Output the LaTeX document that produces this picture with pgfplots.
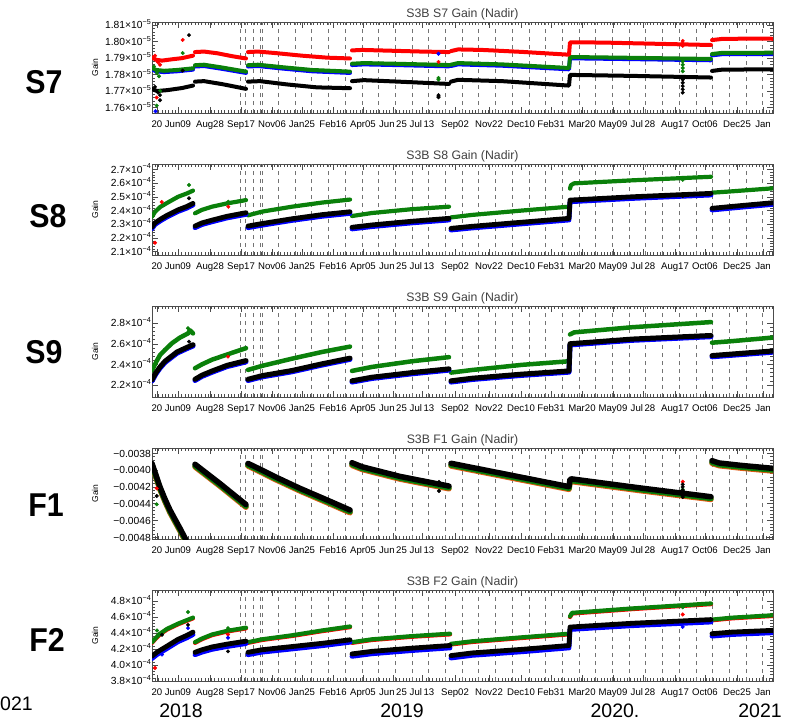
\documentclass[border=0pt]{standalone}
\usepackage{pgfplots}
\pgfplotsset{compat=1.18}
\usepackage{fontspec}
\setmainfont{Liberation Sans}

\definecolor{sred}{RGB}{255,0,0}
\definecolor{sgreen}{RGB}{10,128,10}
\definecolor{sblue}{RGB}{0,0,255}
\definecolor{sframe}{gray}{0.3}
\definecolor{sorange}{RGB}{225,90,20}

% tick label with a power of ten
\newcommand\sci[2]{#1×10\raisebox{0.75ex}{\fontsize{7.2}{7}\selectfont#2}}

\pgfplotsset{
  gainpanel/.style={
    scale only axis, width=621pt, height=91pt,
    at={(0pt,0pt)}, anchor=south west,
    xmin=0, xmax=621,
    xtick={5,26,58,89,120,150,181,211,241,270,303,337,369,399,430,461,491,523,553,585,611},
    xticklabels={20,Jun09,Aug28,Sep17,Nov06,Jan25,Feb16,Apr05,Jun\,25,Jul\,13,Sep02,Nov22,Dec10,Feb31,Mar20,May09,Jul\,28,Aug17,Oct06,Dec25,Jan},
    minor xtick={0,3.3,...,621},
    extra x ticks={88,93,101,108,110,126.3,143,...,612},
    extra x tick labels={},
    extra x tick style={grid=major, major tick length=0pt},
    major grid style={black!55, line width=0.45pt, dash pattern=on 4pt off 4pt},
    minor y tick num=4,
    scaled y ticks=false,
    major tick length=6pt, minor tick length=3pt,
    every tick/.style={sframe, line width=0.45pt},
    axis line style={sframe, line width=0.6pt},
    xticklabel style={font=\fontsize{9.6}{10}\selectfont, yshift=-4.3pt},
    yticklabel style={font=\fontsize{10.3}{11}\selectfont, anchor=base east, yshift=-3.7pt, inner sep=1pt},
    ylabel={Gain},
    every axis y label/.style={at={(rel axis cs:0,0.5)}, xshift=-57pt, rotate=90, anchor=center, font=\fontsize{8.5}{9}\selectfont},
    every axis title/.style={at={(rel axis cs:0.5,1)}, yshift=8pt, anchor=center, font=\fontsize{12.3}{13}\selectfont, text=black!75},
    unbounded coords=jump,
  },
  band/.style={no marks, line width=#1, line join=round, line cap=round},
  band/.default=4pt,
  spot/.style={only marks, mark=*, mark size=1.8pt},
}

\begin{document}
\begin{tikzpicture}
\path[use as bounding box] (0pt,0pt) rectangle (794pt,-721pt);

% ---------------- S7 ----------------
\begin{scope}[shift={(152pt,-113pt)}]
\begin{axis}[gainpanel,
  title={S3B S7 Gain (Nadir)},
  ymin=1.7566, ymax=1.812,
  ytick={1.76,1.77,1.78,1.79,1.80,1.81},
  yticklabels={\sci{1.76}{−5},\sci{1.77}{−5},\sci{1.78}{−5},\sci{1.79}{−5},\sci{1.80}{−5},\sci{1.81}{−5}}]
\addplot[band, sblue] table {
x y
0 1.7832
4 1.7820
12 1.7815
25 1.7820
41 1.7830
nan nan
43 1.7849
52 1.7852
70 1.7835
94 1.7810
nan nan
96 1.7849
106 1.7852
130 1.7837
160 1.7820
198 1.7810
nan nan
200 1.7858
212 1.7862
250 1.7857
297 1.7850
nan nan
299 1.7852
306 1.7862
350 1.7854
417 1.7832
418 1.7899
480 1.7894
559 1.7887
nan nan
560 1.7917
570 1.7924
621 1.7925
};
\addplot[band, sgreen] table {
x y
0 1.7840
4 1.7828
12 1.7823
25 1.7828
41 1.7838
nan nan
43 1.7857
52 1.7860
70 1.7843
94 1.7818
nan nan
96 1.7857
106 1.7860
130 1.7845
160 1.7828
198 1.7818
nan nan
200 1.7866
212 1.7870
250 1.7865
297 1.7858
nan nan
299 1.7860
306 1.7870
350 1.7862
417 1.7840
418 1.7907
480 1.7902
559 1.7895
nan nan
560 1.7925
570 1.7932
621 1.7933
};
\addplot[band, sred] table {
x y
0 1.7905
4 1.7890
10 1.7885
20 1.7893
30 1.7900
41 1.7915
nan nan
43 1.7937
52 1.7940
65 1.7930
80 1.7912
94 1.7898
nan nan
96 1.7937
106 1.7940
125 1.7930
150 1.7915
175 1.7903
198 1.7898
nan nan
200 1.7947
210 1.7950
240 1.7945
270 1.7940
297 1.7937
nan nan
299 1.7943
306 1.7953
330 1.7950
370 1.7938
417 1.7921
418 1.7996
450 1.7995
500 1.7988
559 1.7980
nan nan
560 1.8010
570 1.8017
600 1.8019
621 1.8018
};
\addplot[band, black] table {
x y
0 1.7712
5 1.7700
15 1.7705
30 1.7718
41 1.7733
nan nan
43 1.7757
52 1.7760
70 1.7742
94 1.7713
nan nan
96 1.7757
108 1.7760
135 1.7740
165 1.7722
198 1.7717
nan nan
200 1.7760
212 1.7766
250 1.7756
297 1.7743
nan nan
299 1.7757
306 1.7768
350 1.7760
417 1.7733
418 1.7798
480 1.7792
559 1.7782
nan nan
560 1.7822
570 1.7830
621 1.7832
};
\addplot[spot, sred] coordinates {(3,1.7915) (6,1.7875) (8,1.7860) (4.7,1.7660) (30.7,1.8011) (286.5,1.7877) (530.7,1.8005) (530.7,1.7990) (530.7,1.7975)};
\addplot[spot, sgreen] coordinates {(2,1.7850) (5,1.7810) (7,1.7790) (4.7,1.7611) (8,1.7700) (30.7,1.7931) (286.5,1.7779) (286.5,1.7770) (530.7,1.7880) (530.7,1.7860) (530.7,1.7840) (530.7,1.7820)};
\addplot[spot, sblue] coordinates {(3.5,1.7577) (286.5,1.7927)};
\addplot[spot, black] coordinates {(3,1.7725) (6,1.7690) (8,1.7675) (8,1.7644) (30.7,1.7824) (37,1.8040) (286.5,1.7669) (286.5,1.7662) (286.5,1.7675) (530.7,1.7770) (530.7,1.7750) (530.7,1.7730) (530.7,1.7710) (530.7,1.7690)};
\end{axis}
\end{scope}

% ---------------- S8 ----------------
\begin{scope}[shift={(152pt,-255pt)}]
\begin{axis}[gainpanel,
  title={S3B S8 Gain (Nadir)},
  ymin=2.076, ymax=2.739,
  ytick={2.1,2.2,2.3,2.4,2.5,2.6,2.7},
  yticklabels={\sci{2.1}{−4},\sci{2.2}{−4},\sci{2.3}{−4},\sci{2.4}{−4},\sci{2.5}{−4},\sci{2.6}{−4},\sci{2.7}{−4}}]
\addplot[band=4.2pt, sgreen] table {
x y
0 2.355
3 2.390
8 2.425
15 2.455
26 2.500
35 2.525
41 2.545
nan nan
43 2.380
50 2.405
60 2.428
75 2.452
94 2.476
nan nan
96 2.365
110 2.392
140 2.428
170 2.458
198 2.480
nan nan
200 2.360
220 2.382
260 2.410
297 2.428
nan nan
299 2.350
320 2.368
370 2.400
417 2.428
nan nan
418 2.560
419 2.585
422 2.598
480 2.620
559 2.646
nan nan
560 2.530
580 2.540
621 2.562
};
\addplot[band=4.8pt, sblue] table {
x y
0 2.268
3 2.298
8 2.323
15 2.353
26 2.393
35 2.418
41 2.440
nan nan
43 2.275
50 2.298
60 2.318
75 2.346
94 2.372
nan nan
96 2.275
110 2.293
140 2.328
170 2.358
198 2.379
nan nan
200 2.266
220 2.283
260 2.310
297 2.331
nan nan
299 2.258
320 2.273
370 2.303
417 2.331
418 2.464
480 2.488
559 2.513
nan nan
560 2.404
580 2.418
621 2.445
};
\addplot[band=4.8pt, black] table {
x y
0 2.280
3 2.310
8 2.335
15 2.365
26 2.405
35 2.430
41 2.452
nan nan
43 2.287
50 2.310
60 2.330
75 2.358
94 2.384
nan nan
96 2.287
110 2.305
140 2.340
170 2.370
198 2.391
nan nan
200 2.278
220 2.295
260 2.322
297 2.343
nan nan
299 2.270
320 2.285
370 2.315
417 2.343
418 2.476
480 2.500
559 2.525
nan nan
560 2.416
580 2.430
621 2.457
};
\addplot[spot, sred] coordinates {(3,2.165) (9.7,2.462) (76.3,2.428)};
\addplot[spot, sgreen] coordinates {(37,2.586) (76.3,2.464) (530.7,2.624)};
\addplot[spot, black] coordinates {(37,2.489) (530.7,2.505)};
\end{axis}
\end{scope}

% ---------------- S9 ----------------
\begin{scope}[shift={(152pt,-397pt)}]
\begin{axis}[gainpanel,
  title={S3B S9 Gain (Nadir)},
  ymin=2.083, ymax=2.966,
  ytick={2.2,2.4,2.6,2.8},
  yticklabels={\sci{2.2}{−4},\sci{2.4}{−4},\sci{2.6}{−4},\sci{2.8}{−4}}]
\addplot[band=4.5pt, sgreen] table {
x y
0 2.340
4 2.420
8 2.490
13 2.540
20 2.605
28 2.660
36 2.700
38 2.730
41 2.700
nan nan
43 2.362
50 2.400
60 2.445
75 2.495
94 2.557
nan nan
96 2.346
110 2.385
140 2.455
170 2.520
198 2.572
nan nan
200 2.336
220 2.375
260 2.430
297 2.470
nan nan
299 2.320
320 2.345
370 2.395
417 2.430
nan nan
418 2.690
422 2.710
480 2.760
559 2.810
nan nan
560 2.610
580 2.625
621 2.660
};
\addplot[band=5pt, sblue] table {
x y
0 2.238
4 2.308
8 2.363
13 2.418
25 2.508
35 2.553
41 2.578
nan nan
43 2.243
50 2.283
60 2.323
75 2.378
94 2.424
nan nan
96 2.243
110 2.278
140 2.328
170 2.393
198 2.448
nan nan
200 2.228
220 2.263
260 2.308
297 2.344
nan nan
299 2.228
320 2.253
370 2.293
417 2.324
418 2.588
480 2.633
559 2.668
nan nan
560 2.473
580 2.488
621 2.518
};
\addplot[band=5pt, black] table {
x y
0 2.250
4 2.320
8 2.375
13 2.430
25 2.520
35 2.565
41 2.590
nan nan
43 2.255
50 2.295
60 2.335
75 2.390
94 2.436
nan nan
96 2.255
110 2.290
140 2.340
170 2.405
198 2.460
nan nan
200 2.240
220 2.275
260 2.320
297 2.356
nan nan
299 2.240
320 2.265
370 2.305
417 2.336
418 2.600
480 2.645
559 2.680
nan nan
560 2.485
580 2.500
621 2.530
};
\addplot[spot, sred] coordinates {(76,2.475)};
\addplot[spot, sgreen] coordinates {(36,2.750)};
\addplot[spot, black] coordinates {(37,2.620) (530.7,2.670)};
\end{axis}
\end{scope}

% ---------------- F1 ----------------
\begin{scope}[shift={(152pt,-539pt)}]
\begin{axis}[gainpanel,
  title={S3B F1 Gain (Nadir)},
  ymin=-0.00482, ymax=-0.003737,
  ytick={-0.0048,-0.0046,-0.0044,-0.0042,-0.0040,-0.0038},
  yticklabels={−0.0048,−0.0046,−0.0044,−0.0042,−0.0040,−0.0038}]
\addplot[band=5.5pt, sorange] table {
x y
0 -0.003952
4 -0.004092
8 -0.004232
13 -0.004377
18 -0.004507
23 -0.004617
28 -0.004725
34 -0.004862
nan nan
43 -0.003962
68 -0.004192
94 -0.004442
nan nan
96 -0.003952
110 -0.004032
123 -0.004110
148 -0.004249
175 -0.004387
198 -0.004507
nan nan
200 -0.003944
210 -0.003992
248 -0.004107
297 -0.004222
nan nan
299 -0.003951
358 -0.004090
417 -0.004229
418 -0.004142
420 -0.004137
490 -0.004247
559 -0.004349
nan nan
560 -0.003920
567 -0.003947
590 -0.003977
621 -0.004011
};
\addplot[band=5.5pt, sgreen] table {
x y
0 -0.003940
4 -0.004080
8 -0.004220
13 -0.004365
18 -0.004495
23 -0.004605
28 -0.004713
34 -0.004850
nan nan
43 -0.003950
68 -0.004180
94 -0.004430
nan nan
96 -0.003940
110 -0.004020
123 -0.004098
148 -0.004237
175 -0.004375
198 -0.004495
nan nan
200 -0.003932
210 -0.003980
248 -0.004095
297 -0.004210
nan nan
299 -0.003939
358 -0.004078
417 -0.004217
418 -0.004130
420 -0.004125
490 -0.004235
559 -0.004337
nan nan
560 -0.003908
567 -0.003935
590 -0.003965
621 -0.003999
};
\addplot[band=5.5pt, black] table {
x y
0 -0.003920
4 -0.004060
8 -0.004200
13 -0.004345
18 -0.004475
23 -0.004585
28 -0.004693
34 -0.004830
nan nan
43 -0.003930
68 -0.004160
94 -0.004410
nan nan
96 -0.003920
110 -0.004000
123 -0.004078
148 -0.004217
175 -0.004355
198 -0.004475
nan nan
200 -0.003912
210 -0.003960
248 -0.004075
297 -0.004190
nan nan
299 -0.003919
358 -0.004058
417 -0.004197
418 -0.004110
420 -0.004105
490 -0.004215
559 -0.004317
nan nan
560 -0.003888
567 -0.003915
590 -0.003945
621 -0.003979
};
\addplot[spot, sred] coordinates {(4.7,-0.004217) (530.7,-0.004138)};
\addplot[spot, sgreen] coordinates {(4.7,-0.004407) (530.7,-0.004230)};
\addplot[spot, black] coordinates {(4.7,-0.004308) (287,-0.004249) (287,-0.004140) (287,-0.004160) (530.7,-0.004170) (530.7,-0.004200) (530.7,-0.004240) (530.7,-0.004280) (530.7,-0.004320)};
\end{axis}
\end{scope}

% ---------------- F2 ----------------
\begin{scope}[shift={(152pt,-681pt)}]
\begin{axis}[gainpanel,
  title={S3B F2 Gain (Nadir)},
  ymin=3.80, ymax=4.935,
  ytick={3.8,4.0,4.2,4.4,4.6,4.8},
  yticklabels={\sci{3.8}{−4},\sci{4.0}{−4},\sci{4.2}{−4},\sci{4.4}{−4},\sci{4.6}{−4},\sci{4.8}{−4}}]
\addplot[band=4.2pt, sred] table {
x y
0 4.276
4 4.332
8 4.382
15 4.442
26 4.507
35 4.552
41 4.582
nan nan
43 4.276
50 4.322
60 4.372
75 4.417
94 4.457
nan nan
96 4.276
110 4.312
140 4.362
170 4.422
198 4.472
nan nan
200 4.276
220 4.312
260 4.352
298 4.382
nan nan
299 4.256
320 4.287
370 4.337
417 4.382
nan nan
418 4.598
420 4.642
480 4.697
559 4.759
nan nan
560 4.558
580 4.582
621 4.612
};
\addplot[band=4.2pt, sgreen] table {
x y
0 4.284
4 4.340
8 4.390
15 4.450
26 4.515
35 4.560
41 4.590
nan nan
43 4.284
50 4.330
60 4.380
75 4.425
94 4.465
nan nan
96 4.284
110 4.320
140 4.370
170 4.430
198 4.480
nan nan
200 4.284
220 4.320
260 4.360
298 4.390
nan nan
299 4.264
320 4.295
370 4.345
417 4.390
nan nan
418 4.606
420 4.650
480 4.705
559 4.767
nan nan
560 4.566
580 4.590
621 4.620
};
\addplot[band=4.8pt, sblue] table {
x y
0 4.080
5 4.130
13 4.190
26 4.290
35 4.340
41 4.380
nan nan
43 4.128
50 4.160
60 4.195
75 4.230
94 4.267
nan nan
96 4.128
110 4.160
140 4.200
170 4.240
198 4.284
nan nan
200 4.108
220 4.140
260 4.180
298 4.213
nan nan
299 4.087
320 4.120
370 4.165
417 4.213
418 4.443
480 4.490
559 4.536
nan nan
560 4.360
580 4.380
621 4.402
};
\addplot[band=4.8pt, black] table {
x y
0 4.110
5 4.160
13 4.220
26 4.320
35 4.370
41 4.410
nan nan
43 4.158
50 4.190
60 4.225
75 4.260
94 4.297
nan nan
96 4.158
110 4.190
140 4.230
170 4.270
198 4.314
nan nan
200 4.138
220 4.170
260 4.210
298 4.243
nan nan
299 4.117
320 4.150
370 4.195
417 4.243
418 4.473
480 4.520
559 4.566
nan nan
560 4.390
580 4.410
621 4.432
};
\addplot[spot, sred] coordinates {(3,3.962) (76,4.380) (530.7,4.630)};
\addplot[spot, sblue] coordinates {(10,4.130) (36,4.460) (76,4.340) (530.7,4.475)};
\addplot[spot, black] coordinates {(10,4.377) (36,4.500) (76,4.170)};
\addplot[spot, sgreen] coordinates {(5,4.430) (36,4.660) (76,4.460) (530.7,4.720) (530.7,4.740)};
\end{axis}
\end{scope}

% panel names
\begin{scope}[every node/.style={font=\fontsize{33}{33}\selectfont\bfseries, xscale=0.92}]
\node at (44pt,-82pt) {S7};
\node at (48pt,-216pt) {S8};
\node at (44pt,-352pt) {S9};
\node at (46pt,-505pt) {F1};
\node at (47pt,-640pt) {F2};
\end{scope}

% years along the bottom
\begin{scope}[every node/.style={font=\fontsize{19.5}{20}\selectfont, inner sep=0pt}]
\node[anchor=west] at (0pt,-704pt) {021};
\node at (181pt,-711pt) {2018};
\node at (402pt,-711pt) {2019};
\node at (615pt,-711pt) {2020.};
\node at (760pt,-711pt) {2021};
\end{scope}
\end{tikzpicture}
\end{document}
